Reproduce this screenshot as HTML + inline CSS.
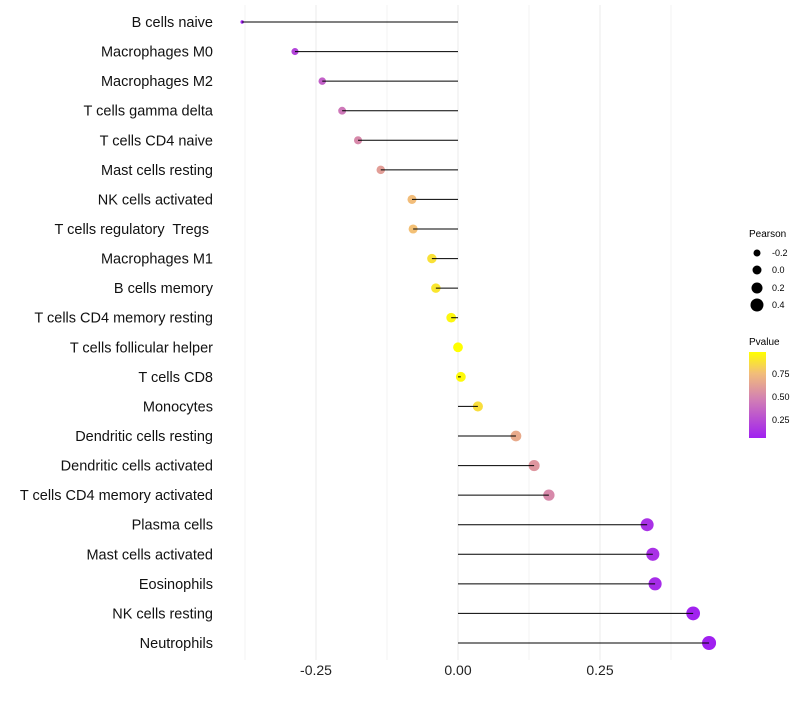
<!DOCTYPE html>
<html><head><meta charset="utf-8"><style>
body{margin:0;background:#fff;font-family:"Liberation Sans",sans-serif}
</style></head><body>
<svg id="chart" width="800" height="700" xmlns="http://www.w3.org/2000/svg">
<defs><linearGradient id="pg" x1="0" y1="1" x2="0" y2="0">
<stop offset="0" stop-color="#A020F0"/><stop offset="0.45" stop-color="#D27FB4"/><stop offset="0.75" stop-color="#F2BD7A"/><stop offset="1" stop-color="#FFFF00"/></linearGradient></defs>
<g id="grid"></g><g id="points"></g><g id="marks"></g><g id="labels"></g>
<g font-size="9" fill="#000">
<text x="749" y="237" font-size="10">Pearson</text>
<circle cx="757" cy="253" r="3.5"/><text x="772" y="256">-0.2</text>
<circle cx="757" cy="270" r="4.5"/><text x="772" y="273">0.0</text>
<circle cx="757" cy="288" r="5.5"/><text x="772" y="291">0.2</text>
<circle cx="757" cy="305" r="6.5"/><text x="772" y="308">0.4</text>
</g>
<g font-size="9" fill="#000">
<text x="749" y="345" font-size="10">Pvalue</text>
<rect x="749" y="352" width="17" height="86" fill="url(#pg)"/>
<text x="772" y="377">0.75</text><text x="772" y="400">0.50</text><text x="772" y="423">0.25</text>
</g>
</svg>
<script>
const categories=["B cells naive","Macrophages M0","Macrophages M2","T cells gamma delta","T cells CD4 naive","Mast cells resting","NK cells activated","T cells regulatory  Tregs ","Macrophages M1","B cells memory","T cells CD4 memory resting","T cells follicular helper","T cells CD8","Monocytes","Dendritic cells resting","Dendritic cells activated","T cells CD4 memory activated","Plasma cells","Mast cells activated","Eosinophils","NK cells resting","Neutrophils"];
const pearson=[-0.380,-0.287,-0.239,-0.204,-0.176,-0.136,-0.081,-0.079,-0.046,-0.039,-0.012,0.000,0.005,0.035,0.102,0.134,0.160,0.333,0.343,0.347,0.414,0.442];
const pvalue=[0.06,0.2,0.32,0.42,0.5,0.6,0.75,0.76,0.88,0.9,0.96,1.0,0.97,0.87,0.66,0.56,0.5,0.12,0.12,0.1,0.06,0.05];
const xTicks=[-0.25,0,0.25];
const xTickLabels=["-0.25","0.00","0.25"];
const NS="http://www.w3.org/2000/svg";
const xs=v=>458+v*568;
const ys=i=>22+i*(643-22)/21;
const rs=v=>v<-0.29?Math.max(1.7,1.7+(v+0.38)*19):4.9+4.8*v;
function col(p){const st=[[0.05,[160,32,240]],[0.45,[210,127,180]],[0.75,[242,189,122]],[0.99,[255,255,0]]];
 p=Math.min(0.99,Math.max(0.05,p));for(let k=0;k<st.length-1;k++){const a=st[k],b=st[k+1];if(p<=b[0]){const t=(p-a[0])/(b[0]-a[0]);return "rgb("+a[1].map((c,j)=>Math.round(c+(b[1][j]-c)*t)).join(",")+")";}}return "rgb(255,255,0)";}
function mk(t,a,par){const e=document.createElementNS(NS,t);for(const k in a)e.setAttribute(k,a[k]);document.getElementById(par).appendChild(e);return e;}
[-0.375,-0.125,0.125,0.375].forEach(v=>{const l=mk("line",{x1:xs(v),x2:xs(v),y1:5,y2:660,stroke:"#f3f3f3","stroke-width":1},"grid");

});
xTicks.forEach((v,i)=>{const l=mk("line",{x1:xs(v),x2:xs(v),y1:5,y2:660,stroke:"#ebebeb","stroke-width":1},"grid");


const t=mk("text",{x:xs(v),y:675,"text-anchor":"middle","font-size":14,fill:"#222"},"labels");t.textContent=xTickLabels[i];

});
categories.forEach((c,i)=>{const y=ys(i);
const p=mk("circle",{cx:xs(pearson[i]),cy:y,r:rs(pearson[i]),fill:col(pvalue[i])},"points");


const s=mk("line",{x1:xs(0),x2:xs(pearson[i]),y1:y,y2:y,stroke:"#000","stroke-width":1},"marks");


const t=mk("text",{x:213,y:y+5,"text-anchor":"end","font-size":14.5,fill:"#111"},"labels");t.textContent=c;t.setAttribute("xml:space","preserve");t.style.whiteSpace="pre";

});
</script>
</body></html>
